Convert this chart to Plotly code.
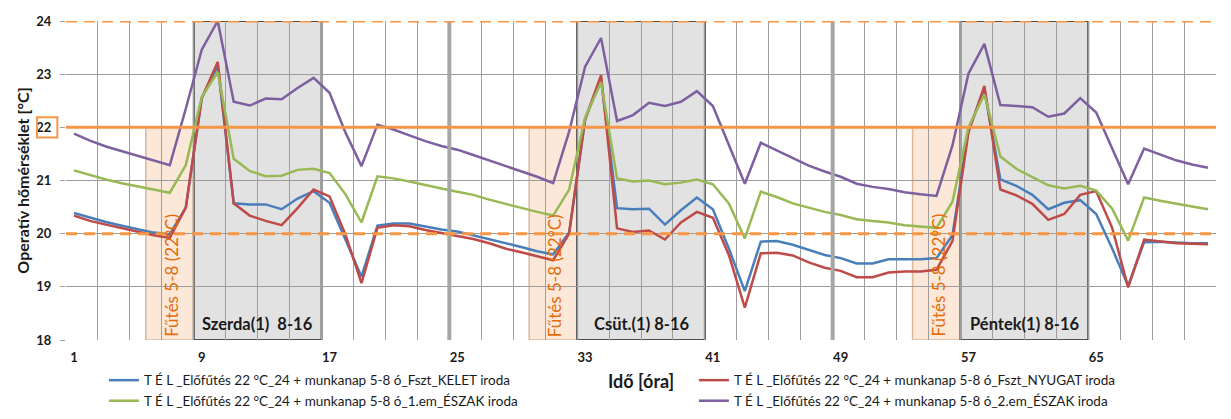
import plotly.graph_objects as go

# Hourly operative temperatures (72 h), winter case with 22 °C pre-heating 5-8 h
hours = list(range(1, 73))

kelet_fszt = [
    20.39, 20.30, 20.22, 20.15, 20.08, 20.02, 19.99, 20.49, 22.55, 23.15,
    20.57, 20.55, 20.55, 20.46, 20.66, 20.80, 20.58, 19.90, 19.19, 20.15,
    20.19, 20.19, 20.13, 20.08, 20.04, 19.97, 19.90, 19.82, 19.75, 19.67,
    19.61, 20.02, 22.15, 22.90, 20.48, 20.46, 20.47, 20.17, 20.44, 20.68,
    20.46, 19.72, 18.92, 19.85, 19.86, 19.79, 19.69, 19.60, 19.54, 19.44,
    19.44, 19.52, 19.52, 19.52, 19.54, 19.97, 21.95, 22.70, 21.02, 20.90,
    20.73, 20.46, 20.58, 20.63, 20.37, 19.72, 19.02, 19.84, 19.85, 19.83,
    19.82, 19.82,
]
nyugat_fszt = [
    20.34, 20.24, 20.17, 20.10, 20.04, 19.97, 19.92, 20.49, 22.55, 23.23,
    20.57, 20.34, 20.24, 20.16, 20.48, 20.83, 20.70, 19.98, 19.07, 20.11,
    20.16, 20.14, 20.07, 20.01, 19.96, 19.90, 19.82, 19.72, 19.65, 19.58,
    19.50, 20.00, 22.15, 22.98, 20.10, 20.03, 20.06, 19.89, 20.21, 20.41,
    20.30, 19.60, 18.61, 19.63, 19.64, 19.59, 19.46, 19.36, 19.30, 19.18,
    19.18, 19.27, 19.29, 19.29, 19.32, 19.86, 21.90, 22.78, 20.83, 20.72,
    20.56, 20.26, 20.37, 20.73, 20.80, 20.11, 18.99, 19.89, 19.86, 19.82,
    19.81, 19.80,
]
eszak_1em = [
    21.19, 21.10, 21.02, 20.95, 20.89, 20.83, 20.77, 21.29, 22.57, 23.04,
    21.41, 21.18, 21.08, 21.09, 21.20, 21.22, 21.14, 20.74, 20.21, 21.08,
    21.04, 20.98, 20.91, 20.85, 20.79, 20.73, 20.64, 20.56, 20.49, 20.41,
    20.34, 20.83, 22.18, 22.85, 21.04, 20.98, 21.00, 20.93, 20.96, 21.02,
    20.93, 20.57, 19.91, 20.79, 20.69, 20.57, 20.49, 20.41, 20.35, 20.27,
    20.24, 20.21, 20.16, 20.13, 20.11, 20.60, 22.00, 22.62, 21.45, 21.22,
    21.07, 20.91, 20.85, 20.90, 20.81, 20.47, 19.87, 20.68, 20.62, 20.56,
    20.51, 20.46,
]
eszak_2em = [
    21.88, 21.75, 21.64, 21.55, 21.46, 21.37, 21.29, 22.35, 23.46, 24.00,
    22.48, 22.41, 22.54, 22.53, 22.74, 22.93, 22.65, 21.90, 21.27, 22.05,
    21.96, 21.85, 21.74, 21.65, 21.58, 21.48, 21.38, 21.27, 21.18, 21.07,
    20.95, 21.92, 23.14, 23.68, 22.12, 22.23, 22.46, 22.40, 22.48, 22.68,
    22.40, 21.66, 20.94, 21.71, 21.57, 21.43, 21.28, 21.17, 21.07, 20.94,
    20.88, 20.84, 20.78, 20.74, 20.71, 21.66, 23.01, 23.57, 22.42, 22.40,
    22.38, 22.20, 22.26, 22.55, 22.28, 21.60, 20.93, 21.60, 21.49, 21.38,
    21.30, 21.24,
]

series_names = [
    "T É L _Előfűtés 22 °C_24 + munkanap 5-8 ó_Fszt_KELET iroda",
    "T É L _Előfűtés 22 °C_24 + munkanap 5-8 ó_Fszt_NYUGAT iroda",
    "T É L _Előfűtés 22 °C_24 + munkanap 5-8 ó_1.em_ÉSZAK iroda",
    "T É L _Előfűtés 22 °C_24 + munkanap 5-8 ó_2.em_ÉSZAK iroda",
]
series_values = [kelet_fszt, nyugat_fszt, eszak_1em, eszak_2em]
series_colors = ["#4a7ebb", "#be4b48", "#98b954", "#7d60a0"]
# two legend columns: KELET / 1.em on the left, NYUGAT / 2.em on the right
series_legend = ["legend", "legend2", "legend", "legend2"]

# Daily schedule: heating window, working hours, day separators
heat_start = [5.5, 29.5, 53.5]
heat_end = [8.5, 32.5, 56.5]
work_start = [8.5, 32.5, 56.5]
work_end = [16.5, 40.5, 64.5]
day_labels = ["Szerda(1)  8-16", "Csüt.(1) 8-16", "Péntek(1) 8-16"]
heat_label = "Fűtés 5-8 (22°C)"
day_breaks = [24.5, 48.5]

# Comfort band limits
comfort_dashed = [24, 20]
setpoint = 22

x_ticks = [1, 9, 17, 25, 33, 41, 49, 57, 65]
y_ticks = [18, 19, 20, 21, 22, 23, 24]

FONT = "Lato"
ORANGE = "#f79646"
TEXT = "#1a1a1a"
GRID = "#9d9d9d"

fig = go.Figure()

for name, vals, col, lg in zip(series_names, series_values, series_colors, series_legend):
    fig.add_trace(go.Scatter(
        x=hours, y=vals, mode="lines", name=name, legend=lg,
        line=dict(color=col, width=2.5),
    ))

shapes = []
# heating windows
for x0, x1 in zip(heat_start, heat_end):
    shapes.append(dict(type="rect", xref="x", yref="y", x0=x0, x1=x1,
                       y0=18, y1=setpoint, layer="below",
                       fillcolor="#fce8d9", line=dict(color="#dcb89a", width=1.5)))
# working hours
for x0, x1 in zip(work_start, work_end):
    shapes.append(dict(type="rect", xref="x", yref="y", x0=x0, x1=x1,
                       y0=18, y1=24, layer="below",
                       fillcolor="#e2e2e2", line=dict(color="#505050", width=2)))
# day separators
for xb in day_breaks:
    shapes.append(dict(type="line", xref="x", yref="y", x0=xb, x1=xb,
                       y0=17.94, y1=24, layer="above",
                       line=dict(color="#a6a6a6", width=4)))
# comfort limits and setpoint
for yv in comfort_dashed:
    shapes.append(dict(type="line", xref="paper", yref="y", x0=0, x1=1,
                       y0=yv, y1=yv, layer="above",
                       line=dict(color=ORANGE, width=3, dash="11px,7px")))
shapes.append(dict(type="line", xref="paper", yref="y", x0=0, x1=1,
                   y0=setpoint, y1=setpoint, layer="above",
                   line=dict(color=ORANGE, width=3)))
# frame around the setpoint tick label
shapes.append(dict(type="rect", xref="paper", yref="y", x0=-0.0252, x1=-0.0075,
                   y0=21.81, y1=22.19, layer="above",
                   line=dict(color=ORANGE, width=2), fillcolor="rgba(0,0,0,0)"))

annotations = []
for x0, x1, lab in zip(work_start, work_end, day_labels):
    annotations.append(dict(x=(x0 + x1) / 2, y=18.31, xref="x", yref="y",
                            text=lab, showarrow=False,
                            font=dict(family=FONT, size=16.5, color=TEXT, weight="bold")))
for x0 in heat_start:
    annotations.append(dict(x=x0 + 1.6, y=18.02, xref="x", yref="y",
                            text=heat_label, showarrow=False, textangle=-90,
                            yanchor="bottom",
                            font=dict(family=FONT, size=17, color="#e46c0a")))
annotations.append(dict(x=0.5, y=-0.128, xref="paper", yref="paper",
                        text="Idő [óra]", showarrow=False, yanchor="middle",
                        font=dict(family=FONT, size=18, color=TEXT, weight="bold")))

legend_style = dict(orientation="v", yanchor="top", xanchor="left",
                    font=dict(family=FONT, size=13.5, color=TEXT),
                    itemwidth=30, tracegroupgap=0, bgcolor="rgba(0,0,0,0)")

fig.update_layout(
    width=1231, height=419,
    margin=dict(l=66, r=15, t=21, b=79, autoexpand=False),
    paper_bgcolor="white", plot_bgcolor="white",
    shapes=shapes, annotations=annotations,
    font=dict(family=FONT, color=TEXT),
    showlegend=True,
    legend=dict(x=0.033, y=-0.078, **legend_style),
    legend2=dict(x=0.546, y=-0.078, **legend_style),
)

fig.update_xaxes(
    range=[0.5, 72.5], tickmode="array", tickvals=x_ticks,
    showgrid=False, zeroline=False, showline=False, ticks="",
    tickfont=dict(family=FONT, size=13, color=TEXT, weight="bold"),
    ticklabelstandoff=8,
    minor=dict(tickmode="linear", tick0=0.5, dtick=2, showgrid=True,
               gridcolor=GRID, gridwidth=1, ticks=""),
)
fig.update_yaxes(
    range=[18, 24], tickmode="array", tickvals=y_ticks,
    showgrid=True, gridcolor=GRID, gridwidth=1, zeroline=False,
    ticks="outside", ticklen=5, tickcolor=GRID,
    tickfont=dict(family=FONT, size=13, color=TEXT, weight="bold"),
    ticklabelstandoff=6,
    title=dict(text="Operatív hőmérséklet [°C]", standoff=2,
               font=dict(family=FONT, size=16, color=TEXT, weight="bold")),
)

fig.write_html("out.html")
